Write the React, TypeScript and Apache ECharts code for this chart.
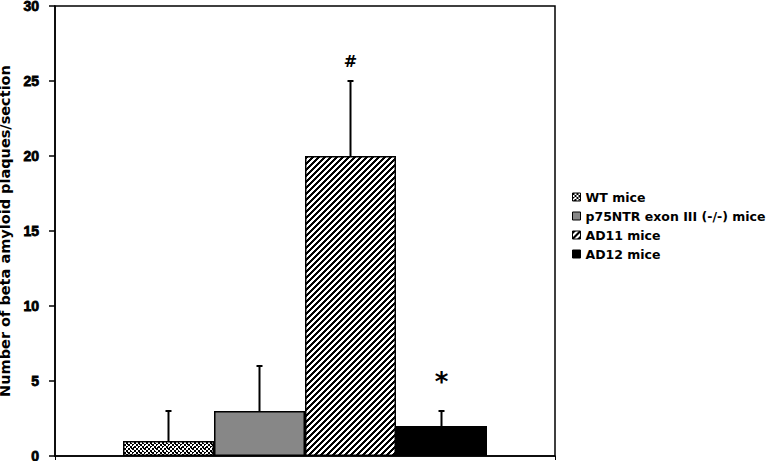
import React, { useEffect, useRef } from "react";
import * as echarts from "echarts";

const groups = ["WT mice", "p75NTR exon III (-/-) mice", "AD11 mice", "AD12 mice"];
const means = [1, 3, 20, 2];
const errors = [2, 3, 5, 1];
const marks = ["", "", "#", "*"];
const yTicks = { min: 0, max: 30, interval: 5 };
const yTitle = "Number of beta amyloid plaques/section";

function makeTile(rows: string[], on: string, off: string) {
  const c = document.createElement("canvas");
  const h = rows.length;
  const w = rows[0].length;
  c.width = w;
  c.height = h;
  const ctx = c.getContext("2d")!;
  for (let y = 0; y < h; y++) {
    for (let x = 0; x < w; x++) {
      ctx.fillStyle = rows[y][x] === "1" ? on : off;
      ctx.fillRect(x, y, 1, 1);
    }
  }
  return { image: c as any, repeat: "repeat" as const, imageWidth: w, imageHeight: h };
}

export default function App() {
  const ref = useRef<HTMLDivElement>(null);
  useEffect(() => {
    if (!ref.current) return;
    const chart = echarts.init(ref.current, null, { renderer: "svg" });

    const dots = makeTile(
      [
        "110011001101",
        "110011001100",
        "001100110010",
        "001100110011",
        "110011011100",
        "100011001100",
        "001100110011",
        "011100100011",
      ],
      "#000",
      "#fff"
    );
    const stripeRows: string[] = [];
    for (let y = 0; y < 6; y++) {
      let r = "";
      for (let x = 0; x < 6; x++) r += (x + y) % 6 < 3 ? "1" : "0";
      stripeRows.push(r);
    }
    const stripes = makeTile(stripeRows, "#000", "#fff");
    const fills: any[] = [dots, "#878787", stripes, "#000"];

    const BW = 91;
    const barSeries = groups.map((g, i) => ({
      name: g,
      type: "bar",
      data: [means[i]],
      barWidth: BW,
      barGap: "0%",
      itemStyle: { color: fills[i], borderColor: "#000", borderWidth: 1.5 },
      z: 2,
    }));

    const errData = groups.map((g, i) => [0, means[i], means[i] + errors[i], i]);

    const errSeries = {
      type: "custom",
      name: "err",
      z: 5,
      renderItem: (params: any, api: any) => {
        const i = api.value(3);
        const base = api.coord([0, api.value(1)]);
        const top = api.coord([0, api.value(2)]);
        const cx = base[0] + (i - 1.5) * BW;
        const children: any[] = [
          {
            type: "line",
            shape: { x1: cx, y1: base[1], x2: cx, y2: top[1] },
            style: { stroke: "#000", lineWidth: 2 },
          },
          {
            type: "line",
            shape: { x1: cx - 3, y1: top[1], x2: cx + 3, y2: top[1] },
            style: { stroke: "#000", lineWidth: 2 },
          },
        ];
        const m = marks[i];
        if (m) {
          const star = m === "*";
          children.push({
            type: "text",
            x: cx,
            y: top[1] - (star ? 29 : 20),
            style: {
              text: m,
              fill: "#000",
              fontFamily: "DejaVu Sans",
              fontWeight: "bold",
              fontSize: star ? 26 : 16,
              align: "center",
              verticalAlign: "middle",
            },
          });
        }
        return { type: "group", children };
      },
      data: errData,
      silent: true,
    };

    chart.setOption({
      animation: false,
      grid: {
        left: 55,
        right: 216,
        top: 6,
        bottom: 5,
        outerBoundsMode: "none",
        containLabel: false,
        show: true,
        borderColor: "#000",
        borderWidth: 1.5,
        backgroundColor: "#fff",
      },
      legend: {
        data: groups,
        orient: "vertical",
        left: 567,
        top: 185,
        icon: "rect",
        itemWidth: 8,
        itemHeight: 8,
        itemGap: 5,
        itemStyle: { borderColor: "#000", borderWidth: 1 },
        textStyle: {
          fontFamily: "DejaVu Sans",
          fontWeight: "bold",
          fontSize: 12.5,
          lineHeight: 14,
          color: "#000",
        },
      },
      xAxis: {
        type: "category",
        data: [""],
        axisLine: { lineStyle: { color: "#000", width: 1.5 } },
        axisTick: { show: true, length: 4, lineStyle: { color: "#000" } },
        axisLabel: { show: false },
      },
      yAxis: {
        type: "value",
        min: yTicks.min,
        max: yTicks.max,
        interval: yTicks.interval,
        name: yTitle,
        nameLocation: "middle",
        nameRotate: 90,
        nameGap: 43,
        nameTextStyle: {
          fontFamily: "DejaVu Sans",
          fontWeight: "bold",
          fontSize: 14.5,
          color: "#000",
        },
        axisLine: { show: true, lineStyle: { color: "#000", width: 1.5 } },
        axisTick: { show: true, length: 6, lineStyle: { color: "#000", width: 1.5 } },
        axisLabel: {
          margin: 16,
          fontFamily: "Liberation Sans",
          fontWeight: "bold",
          fontSize: 14,
          lineHeight: 9,
          color: "#000",
          textBorderColor: "#000",
          textBorderWidth: 0.8,
        },
        splitLine: { show: false },
      },
      series: [...barSeries, errSeries],
    });
    return () => chart.dispose();
  }, []);
  return (
    <div
      ref={ref}
      style={{ position: "fixed", left: 0, top: 0, width: 771, height: 461, background: "#fff" }}
    />
  );
}
